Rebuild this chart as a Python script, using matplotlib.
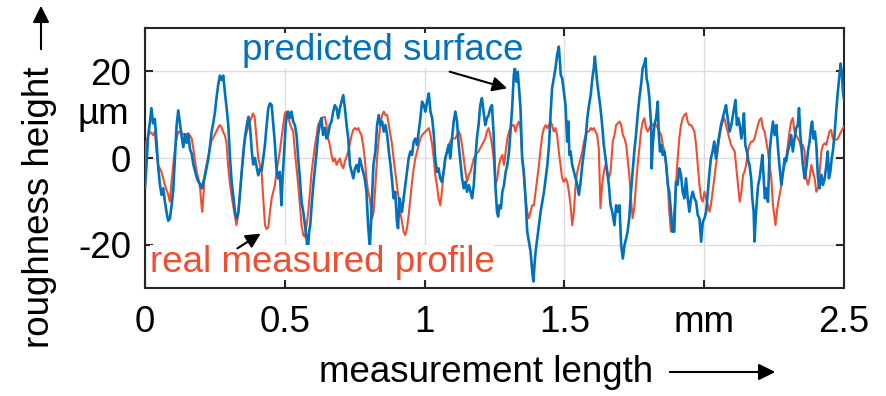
import matplotlib
matplotlib.use('Agg')
from matplotlib import pyplot as plt
from matplotlib import transforms

plt.rcParams['font.family'] = ['Liberation Sans', 'DejaVu Sans']

# predicted surface (blue), x in mm, height in µm
x_pred = [0.000, 0.005, 0.011, 0.017, 0.023, 0.029, 0.035, 0.041, 0.047, 0.053, 0.059, 0.065, 0.071, 0.077,
          0.083, 0.089, 0.095, 0.101, 0.107, 0.113, 0.119, 0.125, 0.131, 0.137, 0.143, 0.149, 0.155, 0.161,
          0.167, 0.173, 0.179, 0.185, 0.191, 0.197, 0.203, 0.209, 0.215, 0.221, 0.227, 0.233, 0.238, 0.244,
          0.250, 0.256, 0.262, 0.268, 0.274, 0.280, 0.286, 0.292, 0.298, 0.304, 0.310, 0.316, 0.322, 0.328,
          0.334, 0.340, 0.346, 0.352, 0.358, 0.364, 0.370, 0.376, 0.382, 0.387, 0.393, 0.399, 0.405, 0.411,
          0.417, 0.429, 0.435, 0.441, 0.447, 0.453, 0.459, 0.465, 0.470, 0.476, 0.482, 0.488, 0.492, 0.498,
          0.503, 0.507, 0.512, 0.518, 0.524, 0.530, 0.536, 0.542, 0.548, 0.554, 0.560, 0.566, 0.572, 0.578,
          0.581, 0.584, 0.587, 0.591, 0.596, 0.602, 0.608, 0.614, 0.619, 0.625, 0.631, 0.637, 0.643, 0.649,
          0.655, 0.661, 0.667, 0.673, 0.679, 0.685, 0.691, 0.697, 0.703, 0.709, 0.715, 0.721, 0.727, 0.733,
          0.739, 0.745, 0.751, 0.757, 0.763, 0.768, 0.774, 0.780, 0.786, 0.792, 0.798, 0.804, 0.808, 0.813,
          0.817, 0.824, 0.830, 0.836, 0.842, 0.848, 0.854, 0.860, 0.866, 0.872, 0.878, 0.884, 0.889, 0.895,
          0.901, 0.905, 0.910, 0.915, 0.919, 0.925, 0.931, 0.937, 0.943, 0.949, 0.955, 0.961, 0.967, 0.973,
          0.979, 0.985, 0.991, 0.997, 1.003, 1.009, 1.015, 1.021, 1.027, 1.033, 1.038, 1.044, 1.050, 1.056,
          1.062, 1.068, 1.074, 1.080, 1.086, 1.092, 1.098, 1.104, 1.110, 1.116, 1.122, 1.128, 1.134, 1.140,
          1.146, 1.152, 1.158, 1.164, 1.170, 1.176, 1.182, 1.187, 1.193, 1.199, 1.205, 1.211, 1.217, 1.223,
          1.229, 1.235, 1.241, 1.247, 1.253, 1.259, 1.263, 1.268, 1.273, 1.278, 1.284, 1.290, 1.296, 1.302,
          1.307, 1.313, 1.319, 1.323, 1.328, 1.333, 1.337, 1.343, 1.349, 1.355, 1.361, 1.367, 1.373, 1.379,
          1.385, 1.389, 1.393, 1.397, 1.403, 1.409, 1.415, 1.421, 1.427, 1.433, 1.439, 1.445, 1.451, 1.456,
          1.462, 1.468, 1.474, 1.480, 1.484, 1.487, 1.492, 1.498, 1.504, 1.510, 1.514, 1.518, 1.522, 1.528,
          1.534, 1.540, 1.546, 1.552, 1.558, 1.564, 1.570, 1.576, 1.582, 1.588, 1.594, 1.600, 1.605, 1.609,
          1.614, 1.617, 1.623, 1.629, 1.635, 1.641, 1.647, 1.653, 1.659, 1.665, 1.671, 1.679, 1.685, 1.691,
          1.697, 1.703, 1.709, 1.715, 1.721, 1.726, 1.732, 1.738, 1.744, 1.750, 1.756, 1.762, 1.768, 1.774,
          1.780, 1.786, 1.790, 1.794, 1.799, 1.804, 1.810, 1.812, 1.816, 1.822, 1.828, 1.834, 1.837, 1.842,
          1.846, 1.852, 1.858, 1.864, 1.870, 1.875, 1.881, 1.887, 1.893, 1.899, 1.905, 1.911, 1.917, 1.923,
          1.929, 1.935, 1.941, 1.947, 1.953, 1.959, 1.965, 1.971, 1.977, 1.983, 1.989, 1.995, 2.001, 2.007,
          2.013, 2.019, 2.024, 2.030, 2.036, 2.042, 2.048, 2.054, 2.060, 2.066, 2.072, 2.078, 2.084, 2.091,
          2.097, 2.103, 2.109, 2.112, 2.117, 2.122, 2.127, 2.133, 2.139, 2.142, 2.147, 2.153, 2.158, 2.162,
          2.168, 2.172, 2.177, 2.180, 2.184, 2.189, 2.193, 2.198, 2.204, 2.208, 2.212, 2.217, 2.222, 2.228,
          2.234, 2.240, 2.246, 2.252, 2.258, 2.264, 2.270, 2.276, 2.282, 2.288, 2.293, 2.299, 2.305, 2.311,
          2.317, 2.323, 2.329, 2.335, 2.339, 2.344, 2.347, 2.353, 2.359, 2.365, 2.371, 2.377, 2.383, 2.386,
          2.391, 2.396, 2.401, 2.407, 2.413, 2.419, 2.425, 2.431, 2.437, 2.442, 2.446, 2.451, 2.456, 2.460,
          2.466, 2.472, 2.478, 2.484, 2.488, 2.493, 2.496, 2.500]
y_pred = [-7.0, -2.0, 5.0, 8.0, 11.5, 8.0, 9.0, 4.0, -2.0, -6.0, -8.5, -7.0, -10.0, -12.5,
          -14.5, -14.0, -11.0, -7.5, 0.0, 7.5, 11.0, 8.0, 5.0, 2.5, 5.5, 3.5, 5.5, 2.0,
          1.0, -1.5, -3.0, -4.5, -5.5, -6.0, -7.0, -5.5, -4.0, -2.0, 0.0, 3.0, 6.0, 8.0,
          10.5, 14.0, 17.0, 19.0, 18.0, 19.0, 15.0, 11.5, 7.5, 0.0, -5.5, -9.0, -12.5, -14.0,
          -12.5, -8.0, -3.0, 1.5, 5.0, 7.5, 9.5, 7.0, 1.5, -1.5, 0.0, -2.0, -4.0, -2.5,
          -3.0, 3.0, 7.6, 11.5, 12.6, 12.2, 7.6, 3.0, -2.4, -4.7, -3.2, -10.9, -4.7, 1.5,
          7.6, 9.9, 10.7, 9.2, 10.7, 8.4, 7.6, 5.3, -0.1, -4.7, -10.1, -12.4, -15.5, -18.5,
          -22.4, -20.1, -17.0, -15.5, -10.9, -6.2, -2.4, 1.5, 5.3, 7.6, 9.2, 5.3, 6.9, 4.5,
          5.3, 7.6, 8.4, 10.7, 12.2, 11.5, 9.2, 11.5, 13.0, 14.5, 11.5, 7.6, 4.5, -1.6,
          -3.2, -4.7, -2.4, -1.6, -3.2, -0.1, -1.6, -3.2, -4.7, -7.8, -15.5, -20.8, -15.5, -7.8,
          -1.6, 1.5, 7.6, 9.9, 7.6, 8.4, 6.1, 7.6, 5.3, 1.5, -1.6, -5.5, -9.3, -7.8,
          -14.7, -16.2, -9.3, -10.9, -12.4, -9.3, -6.2, -3.2, -0.1, 1.5, 0.7, 3.8, 4.5, 3.0,
          6.1, 9.2, 13.0, 12.2, 10.7, 13.0, 14.9, 10.7, 9.2, 5.3, -0.1, -3.2, -2.4, -4.7,
          -5.5, -3.2, -0.1, 1.5, 3.0, -0.1, 4.5, 8.4, 10.7, 8.4, 3.0, -0.8, -4.7, -7.0,
          -5.5, -7.8, -6.2, -7.8, -9.3, -6.2, -0.1, 4.5, 7.6, 12.2, 13.8, 10.7, 7.6, 9.2,
          9.9, 11.5, 12.2, 5.3, -6.2, -12.4, -13.5, -10.9, -11.6, -7.8, -6.2, -3.2, -1.6, 1.5,
          6.1, 11.5, 19.1, 20.7, 17.6, 19.9, 16.8, 11.5, -0.1, -3.2, -9.3, -17.0, -19.3, -21.6,
          -26.2, -28.5, -24.7, -21.6, -18.5, -15.5, -12.4, -10.1, -7.8, -4.7, -1.6, 3.0, 10.7, 16.1,
          18.4, 20.7, 23.8, 25.7, 22.2, 19.1, 18.4, 15.3, 12.2, 3.8, 8.4, 0.7, 1.5, -1.6,
          -3.2, -4.7, -6.2, -8.5, -5.5, -1.6, 1.5, 4.5, 9.2, 12.2, 14.5, 18.4, 20.7, 23.4,
          19.9, 17.6, 14.5, 11.5, 7.6, 3.0, -0.1, -3.2, -6.2, -10.9, -12.4, -15.5, -10.9, -12.4,
          -10.9, -20.1, -23.2, -20.1, -18.5, -17.0, -13.9, -7.8, -3.2, 1.5, 5.3, 9.9, 13.8, 16.8,
          20.7, 21.8, 23.0, 18.4, 16.8, 13.8, 7.6, -2.4, 3.0, 7.6, 9.2, 13.0, 6.1, 1.5,
          3.0, 0.7, 1.5, -1.6, -6.2, -7.8, -12.4, -17.0, -17.0, -5.5, -6.2, -2.4, -3.9, -7.8,
          -9.3, -4.7, -9.3, -12.4, -9.3, -7.8, -9.3, -10.1, -13.2, -13.9, -19.3, -14.7, -13.9, -12.4,
          -7.8, -3.2, -0.1, 1.5, 3.8, -0.1, 3.0, 5.3, 7.6, 9.2, 10.7, 12.2, 9.2, 6.1,
          7.6, 9.9, 12.2, 13.4, 7.6, 9.2, 7.6, 4.5, 7.6, 10.3, 3.0, 1.5, -0.8, -1.6,
          -4.7, -9.3, -12.4, -19.3, -13.9, -9.3, -6.2, -4.7, -1.6, 0.7, -3.9, -9.3, -7.0, -10.1,
          1.5, 5.3, 8.4, 5.3, 7.6, 2.2, -2.4, -6.2, -3.2, -0.1, -0.8, 1.5, 3.0, 5.3,
          1.5, 4.5, 6.9, 7.6, 11.5, 5.3, 3.0, -1.6, -4.7, -2.4, 1.5, 3.8, 7.6, 8.4,
          4.5, 6.1, 3.0, -4.7, -7.0, -3.9, -6.2, -4.7, -1.6, 1.5, -4.7, -3.2, -0.1, 1.5,
          5.3, 10.7, 15.3, 19.1, 21.8, 19.1, 15.3, 13.5]

# real measured profile (red)
x_real = [0.000, 0.005, 0.017, 0.029, 0.035, 0.041, 0.047, 0.059, 0.071, 0.083, 0.089, 0.095, 0.101, 0.107,
          0.113, 0.119, 0.131, 0.143, 0.155, 0.167, 0.173, 0.179, 0.185, 0.191, 0.197, 0.203, 0.205, 0.210,
          0.213, 0.225, 0.237, 0.249, 0.261, 0.267, 0.273, 0.279, 0.285, 0.291, 0.297, 0.303, 0.309, 0.315,
          0.321, 0.327, 0.333, 0.339, 0.345, 0.351, 0.357, 0.368, 0.380, 0.386, 0.392, 0.399, 0.405, 0.411,
          0.417, 0.423, 0.429, 0.435, 0.441, 0.447, 0.453, 0.459, 0.465, 0.470, 0.476, 0.482, 0.488, 0.494,
          0.500, 0.506, 0.512, 0.524, 0.530, 0.536, 0.542, 0.548, 0.554, 0.560, 0.566, 0.572, 0.578, 0.584,
          0.590, 0.596, 0.602, 0.608, 0.614, 0.619, 0.631, 0.643, 0.649, 0.655, 0.661, 0.667, 0.673, 0.679,
          0.685, 0.691, 0.697, 0.703, 0.709, 0.715, 0.727, 0.739, 0.745, 0.751, 0.757, 0.763, 0.768, 0.774,
          0.780, 0.786, 0.792, 0.798, 0.804, 0.812, 0.818, 0.824, 0.830, 0.836, 0.842, 0.848, 0.854, 0.860,
          0.866, 0.872, 0.878, 0.884, 0.889, 0.895, 0.901, 0.907, 0.913, 0.919, 0.925, 0.931, 0.937, 0.943,
          0.949, 0.955, 0.961, 0.967, 0.973, 0.979, 0.985, 0.991, 1.003, 1.015, 1.021, 1.027, 1.033, 1.038,
          1.044, 1.050, 1.056, 1.062, 1.068, 1.074, 1.080, 1.086, 1.092, 1.098, 1.110, 1.122, 1.128, 1.134,
          1.140, 1.146, 1.152, 1.158, 1.164, 1.170, 1.176, 1.182, 1.193, 1.205, 1.217, 1.223, 1.229, 1.235,
          1.241, 1.247, 1.254, 1.260, 1.266, 1.272, 1.278, 1.284, 1.290, 1.296, 1.302, 1.307, 1.313, 1.319,
          1.325, 1.331, 1.337, 1.343, 1.349, 1.355, 1.361, 1.367, 1.373, 1.379, 1.385, 1.391, 1.397, 1.403,
          1.409, 1.415, 1.421, 1.427, 1.433, 1.439, 1.445, 1.451, 1.456, 1.462, 1.468, 1.474, 1.480, 1.486,
          1.492, 1.498, 1.504, 1.510, 1.516, 1.522, 1.528, 1.534, 1.540, 1.546, 1.552, 1.558, 1.564, 1.570,
          1.576, 1.582, 1.588, 1.594, 1.600, 1.605, 1.611, 1.617, 1.623, 1.629, 1.635, 1.641, 1.647, 1.653,
          1.659, 1.665, 1.673, 1.679, 1.685, 1.691, 1.697, 1.703, 1.709, 1.715, 1.721, 1.726, 1.732, 1.738,
          1.744, 1.750, 1.756, 1.762, 1.768, 1.774, 1.780, 1.786, 1.792, 1.798, 1.804, 1.810, 1.816, 1.822,
          1.828, 1.834, 1.840, 1.846, 1.852, 1.858, 1.864, 1.870, 1.875, 1.881, 1.887, 1.893, 1.899, 1.905,
          1.911, 1.917, 1.923, 1.929, 1.935, 1.941, 1.947, 1.953, 1.959, 1.965, 1.971, 1.977, 1.983, 1.989,
          1.995, 2.001, 2.007, 2.013, 2.019, 2.024, 2.030, 2.036, 2.042, 2.048, 2.054, 2.060, 2.066, 2.072,
          2.078, 2.084, 2.090, 2.096, 2.109, 2.115, 2.121, 2.127, 2.133, 2.139, 2.144, 2.150, 2.156, 2.162,
          2.168, 2.174, 2.180, 2.186, 2.192, 2.198, 2.204, 2.210, 2.216, 2.222, 2.228, 2.234, 2.240, 2.246,
          2.252, 2.255, 2.260, 2.265, 2.270, 2.276, 2.282, 2.288, 2.293, 2.299, 2.305, 2.311, 2.317, 2.323,
          2.329, 2.335, 2.341, 2.347, 2.353, 2.359, 2.365, 2.371, 2.377, 2.383, 2.389, 2.395, 2.401, 2.407,
          2.413, 2.419, 2.425, 2.431, 2.437, 2.442, 2.448, 2.454, 2.460, 2.472, 2.478, 2.484, 2.490, 2.496,
          2.500]
y_real = [-2.0, 3.8, 6.1, 5.3, 6.1, 1.5, -1.6, -3.2, -6.2, -8.5, -10.1, -5.5, -1.6, 2.2,
          4.5, 6.1, 5.7, 5.3, 5.7, 4.5, 2.2, -0.8, -3.2, -4.7, -7.0, -11.6, -12.4, -7.8,
          -3.9, -0.1, 3.8, 5.3, 6.9, 7.6, 7.2, 6.1, 5.3, 3.8, -1.6, -5.5, -8.5, -10.9,
          -13.2, -15.5, -13.2, -8.5, -3.9, -0.1, 4.5, 6.9, 9.2, 10.3, 9.5, 4.5, -0.1, -1.6,
          -3.2, -9.3, -15.5, -16.4, -16.0, -12.4, -9.3, -7.8, -6.2, -3.2, -0.8, 1.5, 4.5, 7.6,
          10.3, 10.7, 9.2, 6.9, 6.1, 1.5, -2.4, -6.2, -10.9, -15.5, -17.8, -18.2, -15.5, -12.4,
          -7.8, -3.2, -0.1, 3.0, 5.3, 7.6, 9.2, 9.5, 7.6, 4.5, 3.0, 0.7, -0.8, -0.1,
          -1.6, -0.8, -0.1, -1.6, -2.4, -0.8, 1.5, 5.3, 6.5, 6.9, 6.5, 6.9, 6.1, 5.3,
          3.0, -0.1, -4.7, -7.8, -9.3, -14.0, -12.4, -6.2, -0.1, 4.5, 7.6, 9.9, 10.7, 9.9,
          9.9, 7.6, 5.3, 3.0, -0.1, -3.2, -6.2, -9.3, -12.4, -14.7, -17.0, -17.8, -16.2, -13.2,
          -9.3, -5.5, -2.4, -0.1, 1.5, 3.0, 4.5, 5.3, 6.1, 6.9, 5.3, 3.0, -0.1, -3.9,
          -6.2, -9.3, -10.9, -7.8, -3.2, -0.1, 1.5, 3.0, 3.8, 4.5, 4.5, 6.1, 5.3, 3.0,
          -0.1, -3.2, -5.5, -3.9, -3.2, -1.6, -0.1, 0.7, 1.5, 3.0, 4.5, 6.1, 6.9, 5.3,
          3.0, -0.1, -6.2, -4.7, -1.6, -0.1, 0.7, -1.6, 1.5, 4.5, 6.1, 6.9, 7.6, 7.6,
          6.1, 7.6, 8.4, 6.9, -0.1, -4.7, -9.3, -12.4, -13.9, -12.4, -10.9, -10.9, -7.8, -4.7,
          -1.6, 2.2, 5.3, 6.9, 7.6, 6.9, 7.6, 8.4, 7.6, 6.1, 6.9, 5.3, 1.5, -1.6,
          -4.7, -5.5, -4.7, -5.5, -7.8, -10.9, -15.5, -12.4, -6.2, -3.2, -1.6, -0.1, 1.5, 3.8,
          5.3, 6.1, 6.1, 6.9, 6.5, 6.9, 6.1, 5.3, 2.2, -11.6, -6.2, -3.2, -1.6, -3.2,
          -4.7, -3.2, 3.8, 5.3, 7.6, 8.0, 8.4, 7.6, 5.3, 4.5, 3.0, -0.1, -3.9, -9.3,
          -13.9, -11.6, -6.2, -1.6, 2.2, 6.1, 8.4, 9.2, 6.9, 6.1, 6.9, 7.6, 7.6, 8.0,
          7.6, 6.9, 6.1, 5.3, 3.0, 1.5, -1.6, -6.2, -12.4, -17.0, -15.5, -12.4, -6.2, -0.1,
          4.5, 7.6, 9.2, 9.9, 10.3, 8.4, 7.6, 7.6, 6.9, 6.1, 3.0, -1.6, -6.2, -9.3,
          -10.1, -7.8, -9.3, -10.9, -12.4, -10.9, -7.8, -4.7, -1.6, 1.5, 4.5, 6.9, 8.4, 9.2,
          7.6, 6.1, 4.5, 3.0, 1.5, -2.4, -6.2, -10.1, -7.8, -3.9, -3.2, -1.6, 1.5, 3.0,
          3.8, 3.8, 4.5, 6.1, 7.6, 8.8, 9.2, 6.9, 6.1, 3.8, 1.5, -1.6, -4.7, -10.9,
          -13.9, -15.5, -12.4, -10.1, -8.5, -6.2, -3.2, -1.6, -0.1, 3.0, 6.1, 8.4, 9.2, 6.1,
          5.3, 4.5, 3.8, 2.2, 3.0, 1.5, -4.7, -6.2, -4.7, -1.6, -3.2, -4.7, -7.8, -7.0,
          -3.2, 1.5, 3.0, 3.4, 3.0, 4.5, 6.1, 6.5, 4.5, 4.2, 4.5, 5.3, 6.1, 6.9,
          7.2]

x_ticks = [0, 0.5, 1, 1.5, 2, 2.5]
x_tick_labels = ['0', '0.5', '1', '1.5', 'mm', '2.5']
y_ticks = [-20, 0, 20]
y_tick_labels = ['-20', '0', '20']

blue = '#0072BD'
red = '#F04E30'
fs = 26.5

fig = plt.figure(figsize=(8.86, 3.96), dpi=100)
ax = fig.add_axes([145 / 886, 1 - 288 / 396, 699 / 886, 260 / 396])

ax.plot(x_real, y_real, color=red, lw=1.5, zorder=3)
ax.plot(x_pred, y_pred, color=blue, lw=1.9, zorder=4)

ax.set_xlim(0, 2.5)
ax.set_ylim(-30, 30)
ax.set_xticks(x_ticks)
ax.set_xticklabels(x_tick_labels)
ax.set_yticks(y_ticks)
ax.set_yticklabels(y_tick_labels)
ax.tick_params(direction='in', length=6, width=1.5, top=True, right=True,
               labelsize=fs, color='#262626')
ax.tick_params(axis='x', pad=12)
ax.tick_params(axis='y', pad=10)
ax.grid(True, color='#dcdcdc', lw=1)
for sp in ax.spines.values():
    sp.set_color('#262626')
    sp.set_linewidth(1.5)

# unit label on the y axis
trans = transforms.blended_transform_factory(ax.transAxes, ax.transData)
ax.text(-0.022, 10, 'µm', transform=trans, ha='right', va='center', fontsize=fs)

# line labels with arrows
ax.text(0.851, 24.9, 'predicted surface', color=blue, fontsize=fs, ha='center', va='center',
        zorder=5, bbox=dict(fc='white', ec='none', pad=0))
ax.text(0.633, -24.0, 'real measured profile', color=red, fontsize=fs, ha='center', va='center',
        zorder=5, bbox=dict(fc='white', ec='none', pad=0))
ax.annotate('', xy=(1.305, 15.9), xytext=(1.080, 20.1),
            arrowprops=dict(arrowstyle='-|>', color='k', lw=1.5, mutation_scale=22), zorder=6)
ax.annotate('', xy=(0.422, -17.1), xytext=(0.322, -21.2),
            arrowprops=dict(arrowstyle='-|>', color='k', lw=1.5, mutation_scale=22), zorder=6)

# axis titles with arrows
fig.text(486 / 886, 1 - 373 / 396, 'measurement length', fontsize=fs, ha='center', va='center')
fig.text(40 / 886, 1 - 207 / 396, 'roughness height', fontsize=fs, ha='center', va='center',
         rotation=90)
ax.annotate('', xy=(778, 24), xytext=(667, 24), xycoords='figure pixels',
            textcoords='figure pixels', annotation_clip=False,
            arrowprops=dict(arrowstyle='-|>', color='k', lw=1.5, mutation_scale=25))
ax.annotate('', xy=(41, 393), xytext=(41, 344), xycoords='figure pixels',
            textcoords='figure pixels', annotation_clip=False,
            arrowprops=dict(arrowstyle='-|>', color='k', lw=1.5, mutation_scale=25))

plt.savefig('out.png', dpi=100)
